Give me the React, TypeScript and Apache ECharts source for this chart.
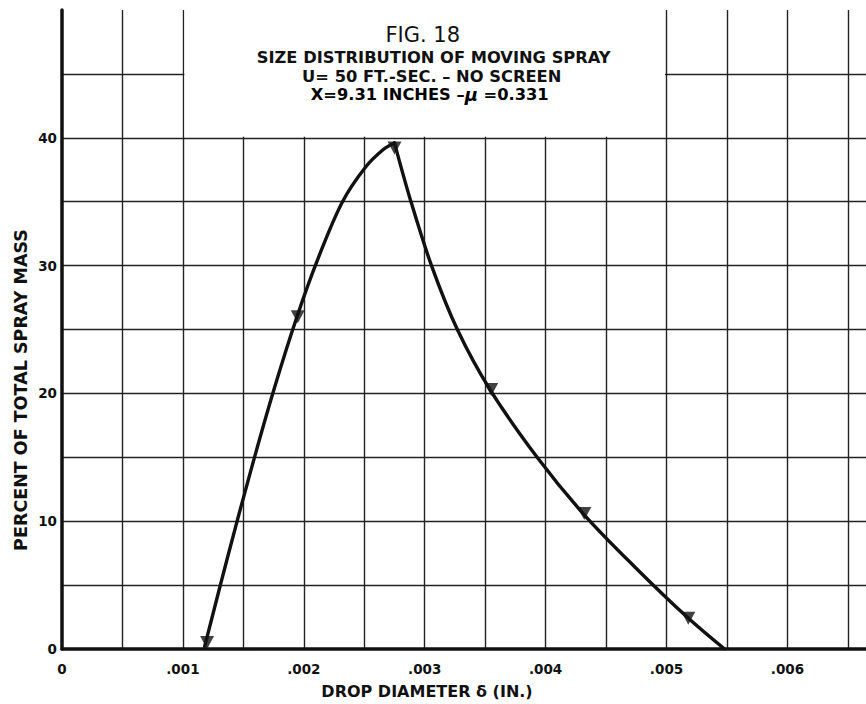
import React, { useEffect, useRef } from "react";
import * as echarts from "echarts";

// Rising branch of the drawn curve, up to the peak (drop diameter in inches, percent of mass)
const riseDiameter = [0.00118, 0.00137, 0.00156, 0.00175, 0.00194, 0.00212, 0.00232, 0.00251, 0.00266, 0.00275];
const risePercent = [0.2, 7.2, 13.9, 20.2, 25.9, 30.6, 35.0, 37.7, 39.1, 39.6];
// Falling branch, from the peak down to zero
const fallDiameter = [0.00275, 0.00288, 0.00306, 0.00327, 0.00354, 0.00393, 0.00431, 0.00474, 0.00517, 0.00548];
const fallPercent = [39.6, 35.2, 29.9, 25.0, 20.3, 15.0, 10.6, 6.4, 2.5, 0];

// Measured points (triangle markers)
const markerDiameter = [0.0012, 0.00195, 0.00275, 0.00355, 0.00432, 0.00518];
const markerPercent = [0.5, 26, 39.2, 20.3, 10.6, 2.4];

const titleLines = [
  "FIG. 18",
  "SIZE DISTRIBUTION OF MOVING SPRAY",
  "U= 50 FT.-SEC. – NO SCREEN",
];
const titleLast = ["X=9.31 INCHES –", "μ", " =0.331"];
const xAxisName = "DROP DIAMETER δ (IN.)";
const yAxisName = "PERCENT OF TOTAL SPRAY MASS";

const FONT = "'DejaVu Sans', sans-serif";
const INK = "#111";

function xLabel(v: number): string {
  const k = Math.round(v * 2000);
  if (k % 2 !== 0) return "";
  const m = k / 2;
  if (m === 0) return "0";
  return "." + String(m).padStart(3, "0");
}

export default function App() {
  const ref = useRef<HTMLDivElement>(null);
  useEffect(() => {
    document.body.style.margin = "0";
    if (!ref.current) return;
    const chart = echarts.init(ref.current, null, { renderer: "svg" });
    const rise = riseDiameter.map((x, i) => [x, risePercent[i]]);
    const fall = fallDiameter.map((x, i) => [x, fallPercent[i]]);
    const marks = markerDiameter.map((x, i) => [x, markerPercent[i]]);
    const lineSeries = (data: number[][]) => ({
      type: "line",
      data,
      smooth: 0.35,
      showSymbol: false,
      lineStyle: { color: INK, width: 3.4, cap: "round", join: "round" },
      z: 3,
    });
    chart.setOption({
      animation: false,
      backgroundColor: "#fff",
      grid: { left: 62, right: 0, top: 10, bottom: 55, containLabel: false },
      xAxis: {
        type: "value",
        min: 0,
        max: 0.00665,
        interval: 0.0005,
        axisLine: { show: true, onZero: false, lineStyle: { color: INK, width: 3.5 } },
        axisTick: { show: false },
        axisLabel: {
          formatter: xLabel,
          showMaxLabel: false,
          fontFamily: FONT,
          fontWeight: "bold",
          fontSize: 13.5,
          color: INK,
          margin: 13,
        },
        splitLine: { show: true, showMinLine: false, showMaxLine: false, lineStyle: { color: "#222", width: 1.4 } },
      },
      yAxis: {
        type: "value",
        min: 0,
        max: 50,
        interval: 5,
        axisLine: { show: true, onZero: false, lineStyle: { color: INK, width: 3.5 } },
        axisTick: { show: false },
        axisLabel: {
          formatter: (v: number) => (v % 10 === 0 ? String(v) : ""),
          showMaxLabel: false,
          fontFamily: FONT,
          fontWeight: "bold",
          fontSize: 13.5,
          color: INK,
          margin: 5,
        },
        splitLine: { show: true, showMinLine: false, showMaxLine: false, lineStyle: { color: "#222", width: 1.4 } },
      },
      series: [
        lineSeries(rise),
        lineSeries(fall),
        {
          type: "scatter",
          data: marks,
          symbol: "triangle",
          symbolRotate: 180,
          symbolSize: [14, 13],
          itemStyle: { color: INK },
          z: 4,
        },
      ],
    });

    const p1 = chart.convertToPixel({ gridIndex: 0 }, [0.001, 40]) as number[];
    const p2 = chart.convertToPixel({ gridIndex: 0 }, [0.005, 40]) as number[];
    const cx = (p1[0] + p2[0]) / 2;
    const bold = { fontFamily: FONT, fontWeight: "bold", fontSize: 16.3, fill: INK, textAlign: "center", textVerticalAlign: "middle" };
    chart.setOption({
      graphic: [
        {
          type: "rect",
          z: 50,
          shape: { x: p1[0] + 1.5, y: 0, width: p2[0] - p1[0] - 3, height: p1[1] - 1 },
          style: { fill: "#fff" },
        },
        {
          type: "text",
          z: 51,
          x: cx - 2,
          y: 35,
          style: { text: titleLines[0], fontFamily: FONT, fontSize: 21, fill: INK, textAlign: "center", textVerticalAlign: "middle" },
        },
        { type: "text", z: 51, x: cx + 9, y: 57.5, style: { ...bold, text: titleLines[1] } },
        { type: "text", z: 51, x: cx + 7, y: 76, style: { ...bold, text: titleLines[2] } },
        {
          type: "text",
          z: 51,
          x: cx + 5,
          y: 94.5,
          style: {
            text: "{a|" + titleLast[0] + "}{m|" + titleLast[1] + "}{a|" + titleLast[2] + "}",
            textAlign: "center",
            textVerticalAlign: "middle",
            rich: {
              a: { fontFamily: FONT, fontWeight: "bold", fontSize: 16.3, color: INK },
              m: { fontFamily: FONT, fontStyle: "italic", fontWeight: "bold", fontSize: 18, color: INK },
            },
          },
        },
        {
          type: "text",
          z: 51,
          x: 427,
          y: 691,
          style: { text: xAxisName, fontFamily: FONT, fontWeight: "bold", fontSize: 16, fill: INK, textAlign: "center", textVerticalAlign: "middle" },
        },
        {
          type: "text",
          z: 51,
          x: 21,
          y: 390,
          rotation: Math.PI / 2,
          style: { text: yAxisName, fontFamily: FONT, fontWeight: "bold", fontSize: 17.5, fill: INK, textAlign: "center", textVerticalAlign: "middle" },
        },
      ],
    });
    return () => chart.dispose();
  }, []);
  return <div ref={ref} style={{ width: 866, height: 704 }} />;
}
